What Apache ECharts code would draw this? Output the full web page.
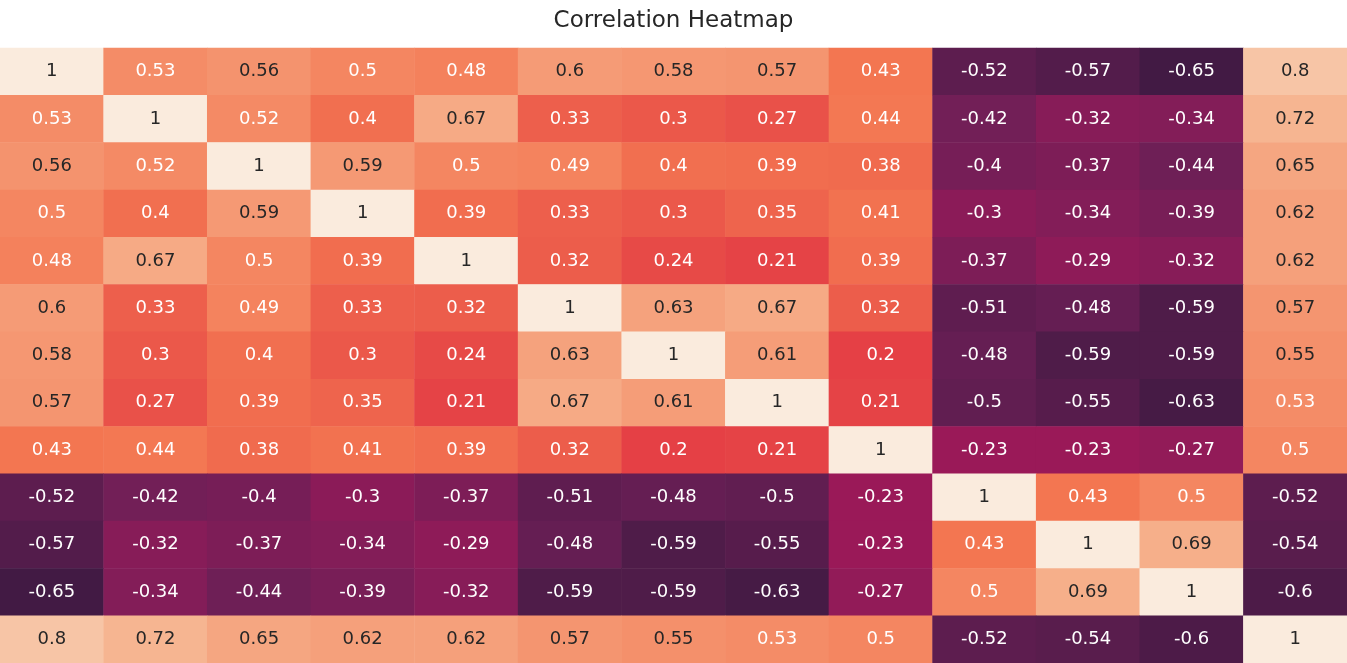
<!DOCTYPE html>
<html>
<head>
<meta charset="utf-8">
<script src="https://cdn.jsdelivr.net/npm/echarts@6/dist/echarts.min.js"></script>
<style>
html,body{margin:0;padding:0;background:#fff;}
#chart{width:1347px;height:663px;}
</style>
</head>
<body>
<div id="chart"></div>
<script>
const variables = ['V1','V2','V3','V4','V5','V6','V7','V8','V9','V10','V11','V12','V13'];
const row1  = [1, 0.53, 0.56, 0.5, 0.48, 0.6, 0.58, 0.57, 0.43, -0.52, -0.57, -0.65, 0.8];
const row2  = [0.53, 1, 0.52, 0.4, 0.67, 0.33, 0.3, 0.27, 0.44, -0.42, -0.32, -0.34, 0.72];
const row3  = [0.56, 0.52, 1, 0.59, 0.5, 0.49, 0.4, 0.39, 0.38, -0.4, -0.37, -0.44, 0.65];
const row4  = [0.5, 0.4, 0.59, 1, 0.39, 0.33, 0.3, 0.35, 0.41, -0.3, -0.34, -0.39, 0.62];
const row5  = [0.48, 0.67, 0.5, 0.39, 1, 0.32, 0.24, 0.21, 0.39, -0.37, -0.29, -0.32, 0.62];
const row6  = [0.6, 0.33, 0.49, 0.33, 0.32, 1, 0.63, 0.67, 0.32, -0.51, -0.48, -0.59, 0.57];
const row7  = [0.58, 0.3, 0.4, 0.3, 0.24, 0.63, 1, 0.61, 0.2, -0.48, -0.59, -0.59, 0.55];
const row8  = [0.57, 0.27, 0.39, 0.35, 0.21, 0.67, 0.61, 1, 0.21, -0.5, -0.55, -0.63, 0.53];
const row9  = [0.43, 0.44, 0.38, 0.41, 0.39, 0.32, 0.2, 0.21, 1, -0.23, -0.23, -0.27, 0.5];
const row10 = [-0.52, -0.42, -0.4, -0.3, -0.37, -0.51, -0.48, -0.5, -0.23, 1, 0.43, 0.5, -0.52];
const row11 = [-0.57, -0.32, -0.37, -0.34, -0.29, -0.48, -0.59, -0.55, -0.23, 0.43, 1, 0.69, -0.54];
const row12 = [-0.65, -0.34, -0.44, -0.39, -0.32, -0.59, -0.59, -0.63, -0.27, 0.5, 0.69, 1, -0.6];
const row13 = [0.8, 0.72, 0.65, 0.62, 0.62, 0.57, 0.55, 0.53, 0.5, -0.52, -0.54, -0.6, 1];
const rows = [row1,row2,row3,row4,row5,row6,row7,row8,row9,row10,row11,row12,row13];

const rocket = ['#03051a','#35193e','#701f57','#ad1759','#e13342','#f37651','#f6b48f','#faebdd'];

const data = [];
rows.forEach((r, i) => r.forEach((v, j) => {
  data.push({
    value: [j, i, v],
    label: { color: v >= 0.545 ? '#262626' : '#ffffff' }
  });
}));

const chart = echarts.init(document.getElementById('chart'), null, {renderer: 'canvas'});
chart.setOption({
  backgroundColor: '#ffffff',
  animation: false,
  title: {
    text: 'Correlation Heatmap',
    left: 'center',
    top: 5,
    textStyle: { fontFamily: 'DejaVu Sans', fontSize: 23, fontWeight: 'normal', color: '#262626' }
  },
  grid: { left: -3, right: -1, top: 48, bottom: -3, containLabel: false },
  xAxis: { type: 'category', data: variables, show: false },
  yAxis: { type: 'category', data: variables, inverse: true, show: false },
  visualMap: {
    show: false, min: -1, max: 1, dimension: 2,
    inRange: { color: rocket }
  },
  series: [{
    type: 'heatmap',
    data: data,
    label: {
      show: true,
      fontFamily: 'DejaVu Sans',
      fontSize: 18,
      formatter: p => String(p.value[2])
    },
    itemStyle: { borderWidth: 0 },
    emphasis: { disabled: true }
  }]
});
</script>
</body>
</html>
